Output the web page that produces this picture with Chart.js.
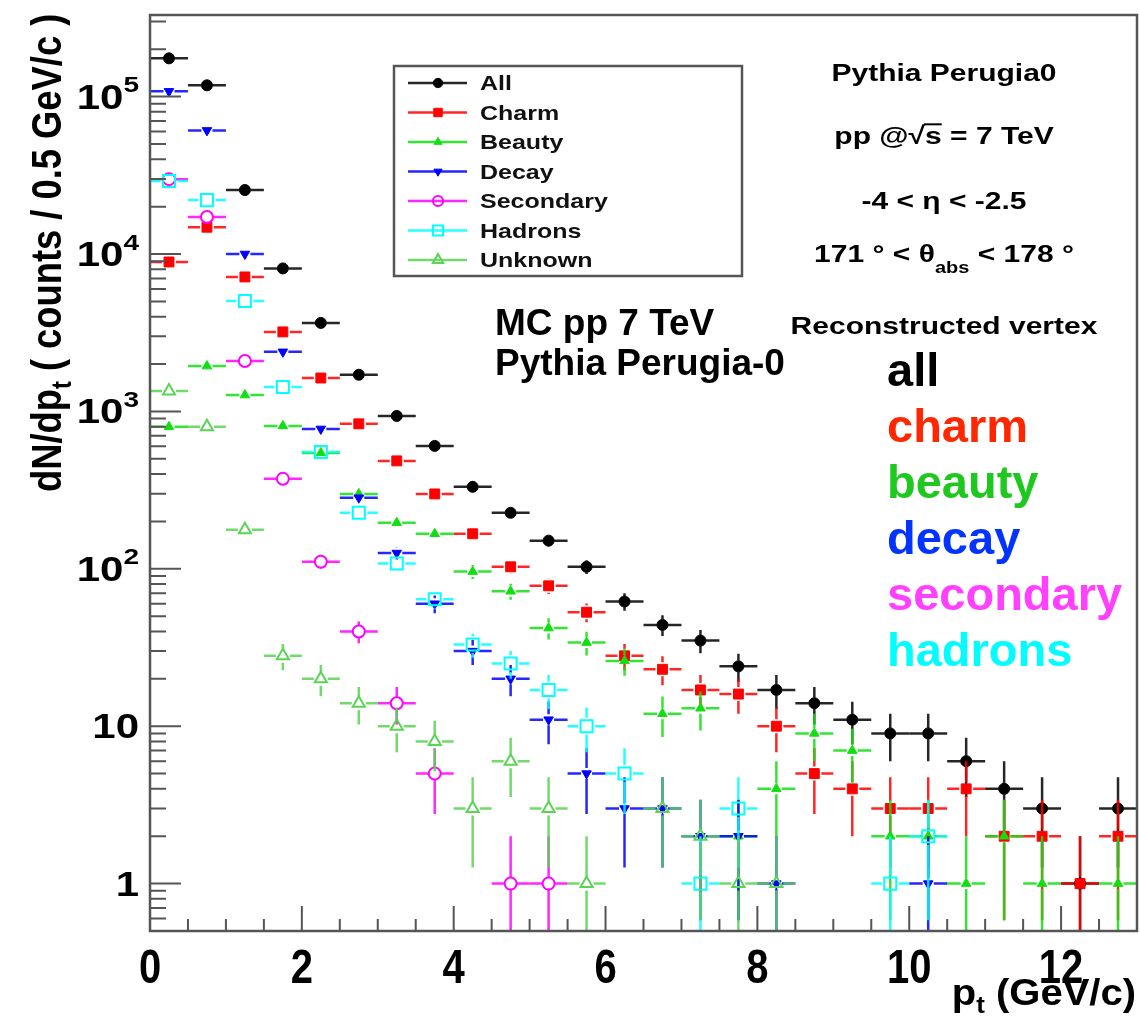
<!DOCTYPE html>
<html>
<head>
<meta charset="utf-8">
<title>dN/dpt per muon source</title>
<script src="https://cdn.jsdelivr.net/npm/chart.js@4/dist/chart.umd.min.js"></script>
<style>
  html, body { margin: 0; padding: 0; background: #fff; }
  #wrap { width: 1140px; height: 1021px; }
</style>
</head>
<body>
<div id="wrap"><canvas id="ptChart" width="1140" height="1021"></canvas></div>
<script>
// pt spectra per muon source, 0.5 GeV/c bins (bin centres below)
const binCenters = [0.25, 0.75, 1.25, 1.75, 2.25, 2.75, 3.25, 3.75, 4.25, 4.75, 5.25, 5.75, 6.25,
                    6.75, 7.25, 7.75, 8.25, 8.75, 9.25, 9.75, 10.25, 10.75, 11.25, 11.75, 12.25, 12.75];
const halfBin = 0.25;

const allCounts       = [175000, 118000, 25500, 8100, 3650, 1710, 936, 604, 332, 227, 151, 103, 62,
                         44, 35, 24, 17, 14, 11, 9, 9, 6, 4, 3, 1, 3];
const charmCounts     = [8900, 14800, 7150, 3200, 1630, 834, 485, 299, 167, 103, 78, 53, 28,
                         23, 17, 16, 10, 5, 4, 3, 3, 4, 2, 2, 1, 2];
const beautyCounts    = [798, 1940, 1270, 809, 545, 299, 196, 167, 96, 72, 42, 34, 26,
                         12, 13, 2, 4, 9, 7, 2, 2, 1, 2, 1, null, 1];
const decayCounts     = [108000, 61000, 10000, 2390, 774, 283, 126, 60, 30, 20, 11, 5, 3,
                         3, 2, 2, 1, null, null, null, 1, null, null, null, null, null];
const secondaryCounts = [29900, 17200, 2090, 373, 111, 40, 14, 5, null, 1, 1, null, null,
                         null, null, null, null, null, null, null, null, null, null, null, null, null];
const hadronCounts    = [29100, 22000, 5030, 1430, 553, 227, 108, 64, 33, 25, 17, 10, 5,
                         null, 1, 3, null, null, null, 1, 2, null, null, null, null, null];
const unknownCounts   = [1350, 798, 177, 28, 20, 14, 10, 8, 3, 6, 3, 1, null,
                         3, 2, 1, 1, null, null, null, null, null, null, null, null, null];

const seriesNames  = ['All', 'Charm', 'Beauty', 'Decay', 'Secondary', 'Hadrons', 'Unknown'];
const yMajorTicks  = [1, 10, 100, 1000, 10000, 100000];
const xTickLabels  = [0, 2, 4, 6, 8, 10, 12];
const sourceLabels = ['all', 'charm', 'beauty', 'decay', 'secondary', 'hadrons'];

// ---- styling ----
const FONT = '"Liberation Sans", Arial, Helvetica, sans-serif';
const SQUEEZE = 0.82;          // ROOT text on this canvas is a bit flattened
const X_MIN = 0, X_MAX = 13, Y_MIN = 0.5, Y_MAX = 3.3e5;
const FRAME_COLOR = '#555';

const seriesStyle = [
  { color: '#000000', pointStyle: 'circle',   radius: 5.5, filled: true },
  { color: '#ff0000', pointStyle: 'rect',     radius: 7,   filled: true },
  { color: '#10e010', pointStyle: 'triangle', radius: 5.5, filled: true },
  { color: '#0000ff', pointStyle: 'triangle', radius: 5.5, filled: true, rotation: 180 },
  { color: '#ff00ff', pointStyle: 'circle',   radius: 6,   filled: false },
  { color: '#00ffff', pointStyle: 'rect',     radius: 8.5, filled: false },
  { color: '#59d454', pointStyle: 'triangle', radius: 7,   filled: false }
];
const labelColors = ['#000000', '#ff2600', '#1ec81e', '#0433ff', '#ff40ff', '#00fdff'];

function toPoints(counts) {
  const pts = [];
  counts.forEach((n, i) => {
    if (n !== null) pts.push({ x: binCenters[i], y: n });
  });
  return pts;
}

const seriesCounts = [allCounts, charmCounts, beautyCounts, decayCounts,
                      secondaryCounts, hadronCounts, unknownCounts];

const datasets = seriesNames.map((name, i) => {
  const s = seriesStyle[i];
  return {
    label: name,
    data: toPoints(seriesCounts[i]),
    showLine: false,
    order: seriesNames.length - i,      // first series ends up underneath
    borderColor: s.color,
    backgroundColor: s.filled ? s.color : 'rgba(0,0,0,0)',
    pointStyle: s.pointStyle,
    pointRadius: s.radius,
    pointHoverRadius: s.radius,
    pointRotation: s.rotation || 0,
    pointBorderWidth: s.filled ? 1 : 2,
    pointBorderColor: s.color,
    pointBackgroundColor: s.filled ? s.color : 'rgba(0,0,0,0)'
  };
});

// draws runs of text ({text, size, dy}) along a baseline
function richText(ctx, runs, x, y, opts) {
  const o = Object.assign({ align: 'left', weight: 'bold', squeeze: 1, color: '#000', rotate: 0 }, opts);
  ctx.save();
  ctx.translate(x, y);
  ctx.scale(1, o.squeeze);
  if (o.rotate) ctx.rotate(o.rotate);
  ctx.fillStyle = o.color;
  ctx.textBaseline = 'alphabetic';
  ctx.textAlign = 'left';
  let total = 0;
  runs.forEach(r => {
    ctx.font = `${o.weight} ${r.size}px ${FONT}`;
    r.w = ctx.measureText(r.text).width;
    total += r.w;
  });
  let cx = o.align === 'center' ? -total / 2 : o.align === 'right' ? -total : 0;
  runs.forEach(r => {
    ctx.font = `${o.weight} ${r.size}px ${FONT}`;
    ctx.fillText(r.text, cx, r.dy || 0);
    r.x0 = cx;
    cx += r.w;
  });
  ctx.restore();
  return runs;
}

// Poisson error bars with the bin width as horizontal bar, drawn under each series
const errorBars = {
  id: 'errorBars',
  beforeDatasetDraw(chart, args) {
    const { ctx, chartArea, scales } = chart;
    const ds = chart.data.datasets[args.index];
    const xs = scales.x, ys = scales.y;
    const gap = ds.pointRadius;
    ctx.save();
    ctx.beginPath();
    ctx.rect(chartArea.left, chartArea.top, chartArea.right - chartArea.left, chartArea.bottom - chartArea.top);
    ctx.clip();
    ctx.strokeStyle = ds.borderColor;
    ctx.globalAlpha = 0.85;
    ctx.lineWidth = 2.5;
    ds.data.forEach(p => {
      const px = xs.getPixelForValue(p.x);
      const py = ys.getPixelForValue(p.y);
      const xl = xs.getPixelForValue(p.x - halfBin);
      const xr = xs.getPixelForValue(p.x + halfBin);
      const err = Math.sqrt(p.y);
      const yHi = ys.getPixelForValue(p.y + err);
      const yLo = p.y - err > Y_MIN ? ys.getPixelForValue(p.y - err) : chartArea.bottom;
      ctx.beginPath();
      ctx.moveTo(xl, py); ctx.lineTo(px - gap, py);
      ctx.moveTo(px + gap, py); ctx.lineTo(xr, py);
      if (yHi < py - gap) { ctx.moveTo(px, yHi); ctx.lineTo(px, py - gap); }
      if (yLo > py + gap) { ctx.moveTo(px, py + gap); ctx.lineTo(px, yLo); }
      ctx.stroke();
    });
    ctx.restore();
  }
};

// ROOT-like frame with inward ticks and the axis labels
const frameAxes = {
  id: 'frameAxes',
  afterDatasetsDraw(chart) {
    const { ctx, chartArea: a, scales } = chart;
    const xs = scales.x, ys = scales.y;
    ctx.save();
    ctx.strokeStyle = FRAME_COLOR;
    ctx.lineWidth = 2;
    ctx.beginPath();
    // log ticks on the left edge
    for (let d = -1; d <= 5; d++) {
      for (let k = 1; k <= 9; k++) {
        const v = k * Math.pow(10, d);
        if (v < Y_MIN || v > Y_MAX) continue;
        const py = ys.getPixelForValue(v);
        const len = k === 1 ? 31 : 16;
        ctx.moveTo(a.left, py); ctx.lineTo(a.left + len, py);
      }
    }
    // linear ticks on the bottom edge
    for (let v = X_MIN; v <= X_MAX + 1e-9; v += 0.5) {
      const px = xs.getPixelForValue(v);
      const len = Math.abs(v / 2 - Math.round(v / 2)) < 1e-9 ? 25 : 12;
      ctx.moveTo(px, a.bottom); ctx.lineTo(px, a.bottom - len);
    }
    ctx.stroke();
    ctx.lineWidth = 2.5;
    ctx.strokeRect(a.left, a.top, a.right - a.left, a.bottom - a.top);
    ctx.restore();

    // y tick labels: 1, 10, 10^2 ... 10^5
    yMajorTicks.forEach(v => {
      const py = ys.getPixelForValue(v) + 12;
      const exp = Math.round(Math.log10(v));
      const runs = exp <= 1 ? [{ text: String(v), size: 42 }]
                            : [{ text: '10', size: 42 }, { text: String(exp), size: 28, dy: -20 }];
      richText(ctx, runs, 139, py, { align: 'right', squeeze: SQUEEZE });
    });
    // x tick labels
    xTickLabels.forEach(v => {
      richText(ctx, [{ text: String(v), size: 40 }], xs.getPixelForValue(v), 983,
               { align: 'center', squeeze: 1.2 });
    });
    // axis titles
    richText(ctx, [{ text: 'p', size: 40 }, { text: 't', size: 26, dy: 9 }, { text: ' (GeV/c)', size: 40 }],
             1136, 1005, { align: 'right', squeeze: 0.9 });
    richText(ctx, [{ text: 'dN/dp', size: 43 }, { text: 't', size: 28, dy: 10 },
                   { text: ' ( counts / 0.5 GeV/c )', size: 43 }],
             61, 492, { rotate: -Math.PI / 2, squeeze: 0.845 });
  }
};

// legend box, simulation notes and coloured source names
const annotations = {
  id: 'annotations',
  afterDraw(chart) {
    const ctx = chart.ctx;
    // legend
    ctx.save();
    ctx.fillStyle = '#fff';
    ctx.fillRect(394, 66, 348, 210);
    ctx.strokeStyle = '#555';
    ctx.lineWidth = 2.5;
    ctx.strokeRect(394, 66, 348, 210);
    chart.data.datasets.forEach((ds, i) => {
      const cy = 83 + i * 29.5;
      ctx.strokeStyle = ds.borderColor;
      ctx.lineWidth = 2.5;
      ctx.globalAlpha = 0.85;
      ctx.beginPath();
      ctx.moveTo(408, cy); ctx.lineTo(467, cy);
      ctx.stroke();
      ctx.globalAlpha = 1;
      ctx.fillStyle = ds.backgroundColor;
      ctx.lineWidth = ds.pointBorderWidth;
      Chart.helpers.drawPoint(ctx, {
        pointStyle: ds.pointStyle, radius: ds.pointRadius * 0.85,
        rotation: ds.pointRotation, borderWidth: ds.pointBorderWidth
      }, 438, cy);
      richText(ctx, [{ text: ds.label, size: 25 }], 480, cy + 7, { squeeze: SQUEEZE, color: '#111' });
    });
    ctx.restore();

    // generator / acceptance block
    const cx = 944;
    richText(ctx, [{ text: 'Pythia Perugia0', size: 30 }], cx, 81, { align: 'center', squeeze: SQUEEZE });
    const ppRuns = richText(ctx, [{ text: 'pp @', size: 30 }, { text: '\u221A', size: 30 }, { text: 's', size: 30 },
                                  { text: ' = 7 TeV', size: 30 }], cx, 144, { align: 'center', squeeze: SQUEEZE });
    ctx.save();
    ctx.strokeStyle = '#000';
    ctx.lineWidth = 2;
    ctx.beginPath();
    ctx.moveTo(cx + ppRuns[2].x0 - 1, 144 - 24 * SQUEEZE);
    ctx.lineTo(cx + ppRuns[2].x0 + ppRuns[2].w, 144 - 24 * SQUEEZE);
    ctx.stroke();
    ctx.restore();
    richText(ctx, [{ text: '-4 < \u03B7 < -2.5', size: 30 }], cx, 209, { align: 'center', squeeze: SQUEEZE });
    richText(ctx, [{ text: '171 \u00B0 < \u03B8', size: 30 }, { text: 'abs', size: 20, dy: 14 },
                   { text: ' < 178 \u00B0', size: 30 }], cx, 262, { align: 'center', squeeze: SQUEEZE });
    richText(ctx, [{ text: 'Reconstructed vertex', size: 30 }], cx, 334, { align: 'center', squeeze: SQUEEZE });

    richText(ctx, [{ text: 'MC pp 7 TeV', size: 37 }], 495, 335);
    richText(ctx, [{ text: 'Pythia Perugia-0', size: 37 }], 495, 375);

    sourceLabels.forEach((t, i) => {
      richText(ctx, [{ text: t, size: 47 }], 887, 386 + i * 56, { color: labelColors[i] });
    });
  }
};

new Chart(document.getElementById('ptChart'), {
  type: 'scatter',
  data: { datasets },
  options: {
    responsive: false,
    animation: false,
    events: [],
    layout: { autoPadding: false, padding: { left: 0, top: 15, right: 3, bottom: 0 } },
    plugins: { legend: { display: false }, tooltip: { enabled: false } },
    scales: {
      x: {
        type: 'linear', min: X_MIN, max: X_MAX,
        grid: { display: false }, border: { display: false },
        ticks: { display: false },
        afterFit(scale) { scale.height = 90; }
      },
      y: {
        type: 'logarithmic', min: Y_MIN, max: Y_MAX,
        grid: { display: false }, border: { display: false },
        ticks: { display: false },
        afterFit(scale) { scale.width = 150; }
      }
    }
  },
  plugins: [errorBars, frameAxes, annotations]
});
</script>
</body>
</html>
